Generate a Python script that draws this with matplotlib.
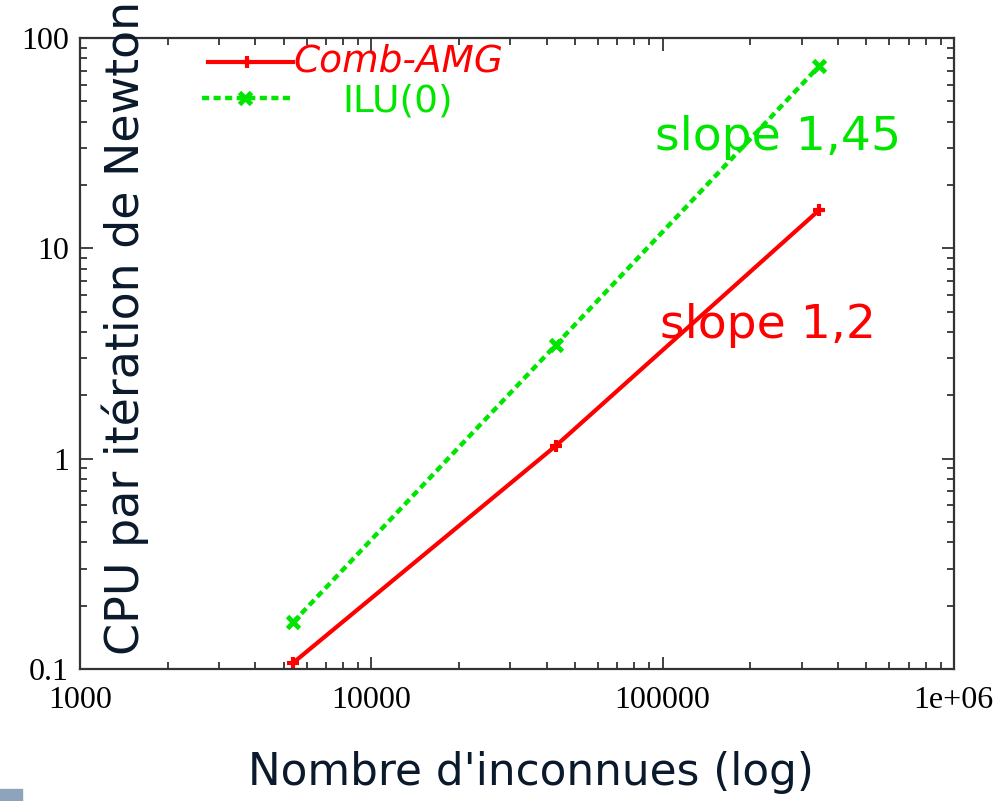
import matplotlib
matplotlib.use("Agg")
import matplotlib.pyplot as plt
from matplotlib.lines import Line2D
from matplotlib.patches import Rectangle
from matplotlib.ticker import LogLocator, NullFormatter, FixedLocator, FixedFormatter

# unknowns and CPU time per Newton iteration
n_unknowns = [5400, 43000, 345000]
cpu_amg = [0.107, 1.15, 15.2]
cpu_ilu = [0.167, 3.47, 73.6]

series_names = ["Comb-AMG", "ILU(0)"]
slope_labels = ["slope 1,45", "slope 1,2"]
xtick_vals = [1000, 10000, 100000, 1000000]
xtick_labels = ["1000", "10000", "100000", "1e+06"]
ytick_vals = [0.1, 1, 10, 100]
ytick_labels = ["0.1", "1", "10", "100"]

red = "#ff0000"
green = "#00e600"
navy = "#0a1a2c"
sans = "DejaVu Sans"
serif = "Liberation Serif"
W, H = 1003, 801

fig = plt.figure(figsize=(10.03, 8.01), dpi=100)
ax = fig.add_axes([0.0798, 0.165, 0.8712, 0.7876])

ax.plot(n_unknowns, cpu_amg, color=red, lw=3, marker="+", ms=8, mew=3)
ax.plot(n_unknowns, cpu_ilu, color=green, lw=3.2, ls=(0, (1.6, 1.0)),
        marker="x", ms=8, mew=3.5)

ax.set_xscale("log")
ax.set_yscale("log")
ax.set_xlim(1000, 1e6)
ax.set_ylim(0.1, 100)

ax.xaxis.set_major_locator(FixedLocator(xtick_vals))
ax.xaxis.set_major_formatter(FixedFormatter(xtick_labels))
ax.yaxis.set_major_locator(FixedLocator(ytick_vals))
ax.yaxis.set_major_formatter(FixedFormatter(ytick_labels))
ax.xaxis.set_minor_locator(LogLocator(base=10, subs=range(2, 10)))
ax.yaxis.set_minor_locator(LogLocator(base=10, subs=range(2, 10)))
ax.xaxis.set_minor_formatter(NullFormatter())
ax.yaxis.set_minor_formatter(NullFormatter())

ax.tick_params(which="both", direction="in", top=True, right=True,
               color="#333333", width=1.3)
ax.tick_params(which="major", length=9, labelsize=23)
ax.tick_params(axis="x", which="major", pad=12)
ax.tick_params(axis="y", which="major", pad=8)
ax.tick_params(which="minor", length=5)
for lab in ax.get_xticklabels() + ax.get_yticklabels():
    lab.set_fontfamily(serif)
for sp in ax.spines.values():
    sp.set_color("#333333")
    sp.set_linewidth(1.6)

# legend drawn by hand like the gnuplot key
ax.add_line(Line2D([0.147, 0.244], [0.962, 0.962], transform=ax.transAxes,
                   color=red, lw=3, clip_on=False))
ax.plot([0.191], [0.962], transform=ax.transAxes, color=red, marker="+",
        ms=8, mew=3, clip_on=False)
ax.add_line(Line2D([0.140, 0.241], [0.905, 0.905], transform=ax.transAxes,
                   color=green, lw=3.2, ls=(0, (1.6, 1.0)), clip_on=False))
ax.plot([0.189], [0.905], transform=ax.transAxes, color=green, marker="x",
        ms=8, mew=3.5, clip_on=False)
ax.text(0.244, 0.962, series_names[0], transform=ax.transAxes, color=red,
        fontsize=27, family=sans, fontstyle="italic", va="center", ha="left")
ax.text(0.363, 0.900, series_names[1], transform=ax.transAxes, color=green,
        fontsize=27, family=sans, va="center", ha="center")

# slope annotations
fig.text(655 / W, 1 - 138 / H, slope_labels[0], color=green, fontsize=34,
         family=sans, va="center", ha="left")
fig.text(660 / W, 1 - 326 / H, slope_labels[1], color=red, fontsize=34,
         family=sans, va="center", ha="left")

fig.text(125 / W, 1 - 328 / H, "CPU par itération de Newton",
         rotation=90, color=navy, fontsize=33, family=sans,
         ha="center", va="center")
fig.text(531 / W, 1 - 772 / H, "Nombre d'inconnues (log)",
         color=navy, fontsize=31.5, family=sans, ha="center", va="center")

fig.patches.append(Rectangle((0, 0), 22 / W, 12 / H, transform=fig.transFigure,
                             color="#8ea4bc", zorder=5))

fig.savefig("out.png", dpi=100, facecolor="white")
